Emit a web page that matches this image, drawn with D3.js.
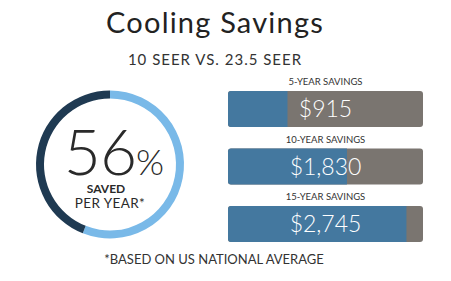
<!DOCTYPE html>
<html>
<head>
<meta charset="utf-8">
<script src="https://cdn.jsdelivr.net/npm/d3@7"></script>
<style>
  body { margin: 0; background: #fff; }
  text { font-family: "Lato", "Open Sans", sans-serif; }
</style>
</head>
<body>
<div id="chart"></div>
<script>
// Data
var percentSaved = 56;
var periods = ["5-YEAR SAVINGS", "10-YEAR SAVINGS", "15-YEAR SAVINGS"];
var savings = [915, 1830, 2745];
var savingsMax = 3000;

var width = 451, height = 281;

var svg = d3.select("#chart").append("svg")
     .attr("width", width)
     .attr("height", height);

// Titles
svg.append("text")
     .attr("x", 215).attr("y", 33)
     .attr("text-anchor", "middle")
     .attr("font-size", 29)
     .attr("letter-spacing", 1.2)
     .attr("fill", "#222")
     .text("Cooling Savings");

svg.append("text")
     .attr("x", 215).attr("y", 65)
     .attr("text-anchor", "middle")
     .attr("font-size", 15)
     .attr("letter-spacing", 1)
     .attr("fill", "#333")
     .text("10 SEER VS. 23.5 SEER");

// Ring
var ring = svg.append("g").attr("transform", "translate(110,164.5)");
var pie = d3.pie().sort(null).value(function(d){ return d.v; });
var arc = d3.arc().innerRadius(66).outerRadius(74);
var ringData = [{v: percentSaved, c: "#79b9e8"}, {v: 100 - percentSaved, c: "#1f3a52"}];

ring.selectAll("path")
     .data(pie(ringData))
     .enter()
     .append("path")
     .attr("d", arc)
     .attr("fill", function(d){ return d.data.c; });

var big = ring.append("text")
     .attr("x", 4).attr("y", 10)
     .attr("text-anchor", "middle")
     .attr("fill", "#2a2a2a");
big.append("tspan")
     .attr("font-size", 64)
     .attr("font-weight", 300)
     .attr("letter-spacing", -1)
     .text(percentSaved);
big.append("tspan")
     .attr("font-size", 36)
     .attr("font-weight", 300)
     .text("%");

ring.append("text")
     .attr("x", -4).attr("y", 28)
     .attr("text-anchor", "middle")
     .attr("font-size", 12)
     .attr("font-weight", 700)
     .attr("fill", "#2a2a2a")
     .text("SAVED");

ring.append("text")
     .attr("x", 0).attr("y", 43)
     .attr("text-anchor", "middle")
     .attr("font-size", 13.5)
     .attr("letter-spacing", 0.4)
     .attr("fill", "#2a2a2a")
     .text("PER YEAR*");

// Bars
var barX = d3.scaleLinear().domain([0, savingsMax]).range([228, 423]);
var barY = d3.scaleBand().domain(periods)
     .range([91, 91 + 57.5 * 3 - 21.5])
     .paddingInner(21.5 / 57.5)
     .paddingOuter(0);

var rows = svg.selectAll(".row")
     .data(periods)
     .enter()
     .append("g")
     .attr("class", "row")
     .attr("transform", function(d){ return "translate(0," + barY(d) + ")"; });

rows.append("rect")
     .attr("x", barX(0))
     .attr("width", barX(savingsMax) - barX(0))
     .attr("height", barY.bandwidth())
     .attr("rx", 3)
     .attr("fill", "#7a7570");

rows.append("path")
     .attr("fill", "#44789f")
     .attr("d", function(d, i){
          var x0 = barX(0), x1 = barX(savings[i]), h = barY.bandwidth(), r = 3;
          return "M" + (x0 + r) + ",0H" + x1 + "V" + h + "H" + (x0 + r) +
               "A" + r + "," + r + " 0 0 1 " + x0 + "," + (h - r) +
               "V" + r + "A" + r + "," + r + " 0 0 1 " + (x0 + r) + ",0Z";
     });

rows.append("text")
     .attr("x", (barX(0) + barX(savingsMax)) / 2)
     .attr("y", -6)
     .attr("text-anchor", "middle")
     .attr("font-size", 9.5)
     .attr("fill", "#333")
     .text(function(d){ return d; });

rows.append("text")
     .attr("x", (barX(0) + barX(savingsMax)) / 2)
     .attr("y", 26)
     .attr("text-anchor", "middle")
     .attr("font-size", 23)
     .attr("font-weight", 300)
     .attr("fill", "#fff")
     .text(function(d, i){ return "$" + d3.format(",")(savings[i]); });

// Footnote
svg.append("text")
     .attr("x", 214).attr("y", 264)
     .attr("text-anchor", "middle")
     .attr("font-size", 13)
     .attr("fill", "#333")
     .text("*BASED ON US NATIONAL AVERAGE");
</script>
</body>
</html>
